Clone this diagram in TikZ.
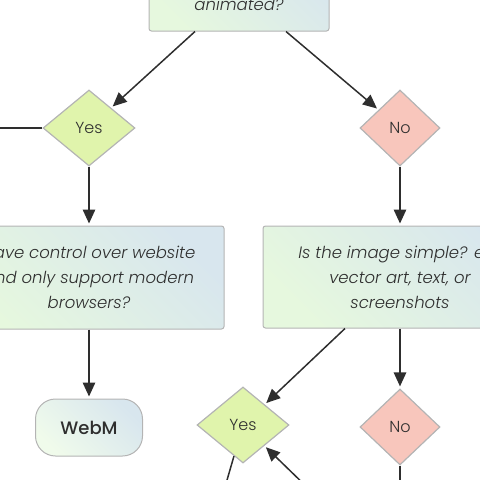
\documentclass[tikz,border=0pt]{standalone}
\usepackage{fontspec}
\setmainfont{Poppins}[UprightFont=* Light, ItalicFont=* Light Italic, BoldFont=* Medium]
\usepackage{xcolor}
\usepackage{tikz}
\usetikzlibrary{arrows.meta, shapes.geometric}

\definecolor{textgrey}{HTML}{2E2E2E}
\definecolor{edgegrey}{HTML}{B4B4B4}
\definecolor{boxgreen}{HTML}{E6F8DE}
\definecolor{boxblue}{HTML}{D8E6EE}
\definecolor{yeslight}{HTML}{E0F4AC}
\definecolor{yesmid}{HTML}{C8EA62}
\definecolor{nolight}{HTML}{F8C6BC}
\definecolor{nomid}{HTML}{F3907E}

\tikzset{
  question/.style={draw=edgegrey, line width=1pt, rounded corners=2.5pt,
    left color=boxgreen, right color=boxblue, shading angle=135,
    text=textgrey, align=center, font=\fontsize{16.5}{25}\selectfont\itshape},
  yesbox/.style={draw=edgegrey, line width=1.2pt, shape=diamond, aspect=1.2,
    minimum width=92pt, minimum height=76pt, inner sep=0pt,
    left color=yeslight, middle color=yesmid, right color=yeslight,
    shading angle=135, text=textgrey, font=\fontsize{16}{16}\selectfont},
  nobox/.style={yesbox, minimum width=80pt,
    left color=nolight, middle color=nomid, right color=nolight},
  answer/.style={draw=edgegrey, line width=1pt, rounded corners=20pt,
    minimum width=107pt, minimum height=57pt,
    left color=boxgreen!60!white, right color=boxblue, shading angle=135,
    text=textgrey, font=\fontsize{18}{18}\selectfont\bfseries},
  flow/.style={draw=textgrey, line width=1.5pt, >={Triangle[length=14pt,width=12.5pt]}}
}

\begin{document}
\begin{tikzpicture}[x=1pt, y=-1pt]
\useasboundingbox (0,0) rectangle (480,480);
\clip (0,0) rectangle (480,480);
\node[question, minimum width=180pt, minimum height=79pt] (animated) at (239,-8.5) {Is the image\\animated?};
\node[yesbox] (yesA) at (89,128) {Yes};
\node[nobox] (noA) at (400,128) {No};
\node[question, minimum width=270pt, minimum height=103pt] (control) at (89,277.5) {Have control over website\\and only support modern\\browsers?};
\node[question, minimum width=274pt, minimum height=102pt] (simple) at (400,277) {Is the image simple? e.g.\\vector art, text, or\\screenshots};
\node[answer] (webm) at (89,427.5) {WebM};
\node[yesbox] (yesB) at (243,425) {Yes};
\node[nobox] (noB) at (400,427) {No};
% free ends leaving the picture
\coordinate (yesAout) at (-10,128);
\coordinate (yesBin) at (312,492);
\coordinate (yesBout) at (225,487);
\coordinate (noBout) at (400,490);

\draw[flow, ->, shorten >=2pt] ([xshift=-44pt]animated.south) -- (yesA);
\draw[flow, ->, shorten >=2pt] ([xshift=47pt]animated.south) -- (noA);
\draw[flow] (yesA) -- (yesAout);
\draw[flow, ->, shorten >=2pt] (yesA) -- (control);
\draw[flow, ->, shorten >=2pt] (noA) -- (simple);
\draw[flow, ->, shorten >=2pt] (control) -- (webm);
\draw[flow, ->, shorten >=2pt] ([xshift=-55pt]simple.south) -- (yesB);
\draw[flow, ->, shorten >=2pt] (simple) -- (noB);
\draw[flow, ->, shorten >=2pt] (yesBin) -- (yesB);
\draw[flow] (yesB) -- (yesBout);
\draw[flow] (noB) -- (noBout);
\end{tikzpicture}
\end{document}
